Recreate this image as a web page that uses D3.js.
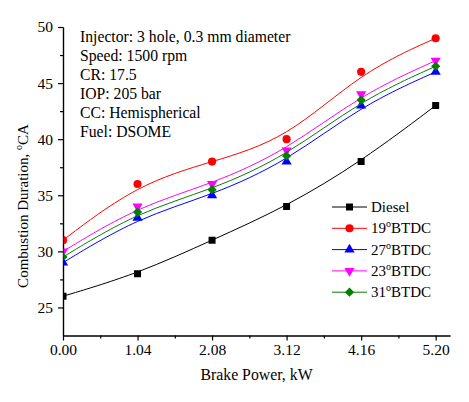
<!DOCTYPE html>
<html>
<head>
<meta charset="utf-8">
<script src="https://cdn.jsdelivr.net/npm/d3@7"></script>
<style>
  body { margin: 0; background: #fff; }
  text { font-family: "Liberation Serif", "Times New Roman", serif; }
</style>
</head>
<body>
<div id="plot"></div>
<script>
// data
var power = [0, 1.04, 2.08, 3.12, 4.16, 5.20];
var diesel = [26, 28, 31, 34, 38, 43];
var btdc19 = [31, 36, 38, 40, 46, 49];
var btdc27 = [29, 33, 35, 38, 43, 46];
var btdc23 = [30, 34, 36, 39, 44, 47];
var btdc31 = [29.5, 33.5, 35.5, 38.5, 43.5, 46.5];
var yTicks = [25, 30, 35, 40, 45, 50];
var notes = ["Injector: 3 hole, 0.3 mm diameter", "Speed: 1500 rpm", "CR: 17.5",
    "IOP: 205 bar", "CC: Hemispherical", "Fuel: DSOME"];

var series = [
    { deg: null, name: "Diesel", values: diesel, color: "#000000", symbol: "square" },
    { deg: "19", name: "BTDC", values: btdc19, color: "#ff0000", symbol: "circle" },
    { deg: "27", name: "BTDC", values: btdc27, color: "#0000ff", symbol: "triangle" },
    { deg: "23", name: "BTDC", values: btdc23, color: "#ff00ff", symbol: "triangleDown" },
    { deg: "31", name: "BTDC", values: btdc31, color: "#008000", symbol: "diamond" }
];

var svgWidth = 469, svgHeight = 402;
var plotLeft = 63, plotRight = 450, plotTop = 27, plotBottom = 335.5;

var svg = d3.select("#plot").append("svg")
    .attr("width", svgWidth)
    .attr("height", svgHeight);

var xScale = d3.scaleLinear().domain([0, 5.4]).range([plotLeft, plotRight]);
var yScale = d3.scaleLinear().domain([22.5, 50]).range([plotBottom, plotTop]);

// axes
var xAxis = d3.axisBottom(xScale).tickValues(power).tickFormat(d3.format(".2f"))
    .tickSize(5).tickSizeOuter(0).tickPadding(3);
var xMinor = d3.axisBottom(xScale).tickValues(power.slice(0, 5).map(p => p + 0.52))
    .tickSize(3).tickSizeOuter(0).tickFormat("");
var yAxis = d3.axisLeft(yScale).tickValues(yTicks).tickSize(5).tickSizeOuter(0).tickPadding(5);
var yMinor = d3.axisLeft(yScale).tickValues(yTicks.slice(0, 5).map(v => v + 2.5))
    .tickSize(3).tickSizeOuter(0).tickFormat("");

function styleAxis(g) {
    g.selectAll("path, line").attr("stroke", "#000").attr("stroke-width", 1.2);
    g.selectAll("text").attr("fill", "#000").style("font-size", "15.5px")
        .style("font-family", "'Liberation Serif', serif");
}

svg.append("g").attr("transform", `translate(0, ${plotBottom})`).call(xMinor).call(styleAxis);
svg.append("g").attr("transform", `translate(0, ${plotBottom})`).call(xAxis).call(styleAxis);
svg.append("g").attr("transform", `translate(${plotLeft}, 0)`).call(yMinor).call(styleAxis);
svg.append("g").attr("transform", `translate(${plotLeft}, 0)`).call(yAxis).call(styleAxis);

// axis titles
svg.append("text")
    .attr("x", (plotLeft + plotRight) / 2)
    .attr("y", 380)
    .attr("text-anchor", "middle")
    .style("font-size", "15.8px")
    .text("Brake Power, kW");

var yTitle = svg.append("text")
    .attr("transform", "translate(28, 206) rotate(-90)")
    .attr("text-anchor", "middle")
    .style("font-size", "15px");
yTitle.append("tspan").text("Combustion Duration, ");
yTitle.append("tspan").attr("dy", -6).style("font-size", "10px").text("o");
yTitle.append("tspan").attr("dy", 6).text("CA");

// notes
svg.append("g").selectAll("text")
    .data(notes)
    .enter().append("text")
    .attr("x", 80)
    .attr("y", (d, i) => 42 + i * 19)
    .style("font-size", "15.7px")
    .text(d => d);

// markers
function symbolPath(kind) {
    if (kind === "square") return d3.symbol(d3.symbolSquare, 49)();
    if (kind === "circle") return d3.symbol(d3.symbolCircle, 52)();
    if (kind === "triangle" || kind === "triangleDown") return d3.symbol(d3.symbolTriangle, 45)();
    return d3.symbol(d3.symbolSquare, 42)();
}
function symbolRotate(kind) {
    if (kind === "triangleDown") return " rotate(180)";
    if (kind === "diamond") return " rotate(45)";
    return "";
}

svg.append("clipPath").attr("id", "plotClip")
    .append("rect")
    .attr("x", plotLeft + 0.6).attr("y", plotTop)
    .attr("width", plotRight - plotLeft).attr("height", plotBottom - plotTop);

var plotArea = svg.append("g").attr("clip-path", "url(#plotClip)");

var line = d3.line()
    .x((d, i) => xScale(power[i]))
    .y(d => yScale(d))
    .curve(d3.curveBasis);

series.forEach(function (s) {
    plotArea.append("path")
        .attr("d", line(s.values))
        .attr("fill", "none")
        .attr("stroke", s.color)
        .attr("stroke-width", 1);

    plotArea.selectAll(null)
        .data(s.values)
        .enter().append("path")
        .attr("d", symbolPath(s.symbol))
        .attr("transform", (d, i) => `translate(${xScale(power[i])}, ${yScale(d)})` + symbolRotate(s.symbol))
        .attr("fill", s.color);
});

// legend
var legend = svg.append("g").attr("transform", "translate(332, 207)");
series.forEach(function (s, i) {
    var row = legend.append("g").attr("transform", `translate(0, ${i * 21.3})`);
    row.append("line")
        .attr("x1", 0).attr("x2", 35)
        .attr("stroke", s.color).attr("stroke-width", 1);
    row.append("path")
        .attr("d", symbolPath(s.symbol))
        .attr("transform", "translate(17.5, 0)" + symbolRotate(s.symbol))
        .attr("fill", s.color);
    var t = row.append("text")
        .attr("x", 39)
        .attr("y", 5)
        .style("font-size", "15px");
    if (s.deg === null) {
        t.text(s.name);
    } else {
        t.append("tspan").text(s.deg);
        t.append("tspan").attr("dy", -6).style("font-size", "10px").text("o");
        t.append("tspan").attr("dy", 6).text(s.name);
    }
});
</script>
</body>
</html>
